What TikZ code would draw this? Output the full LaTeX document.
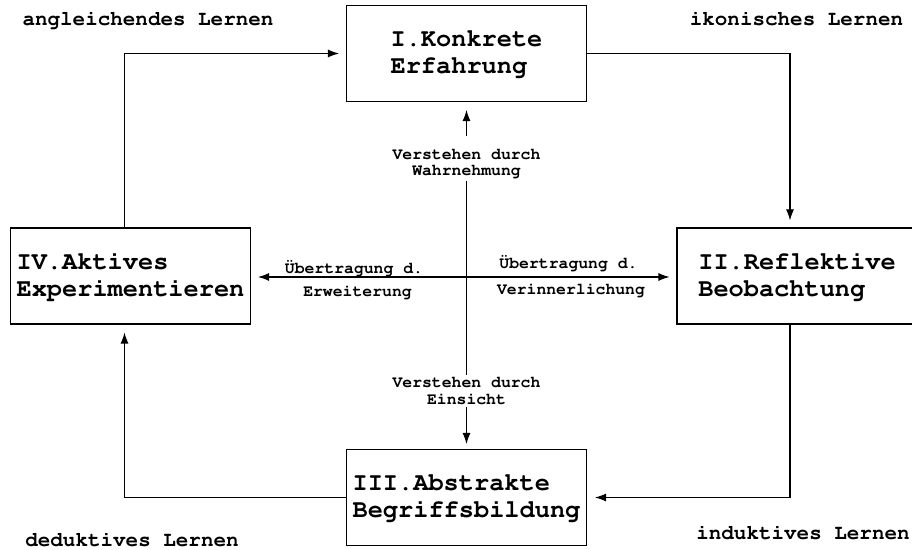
\documentclass[tikz,border=0pt]{standalone}
\usepackage[T1]{fontenc}
\usepackage{courier}
\usetikzlibrary{arrows.meta}

\begin{document}
\begin{tikzpicture}[
    phase/.style={draw, minimum width=4.8cm, minimum height=1.92cm, inner sep=0pt, align=left,
        font=\ttfamily\bfseries\fontsize{14.4}{15.4}\selectfont},
    weg/.style={inner sep=1pt, font=\ttfamily\bfseries\fontsize{11.9}{13}\selectfont},
    note/.style={inner sep=1pt, align=center, font=\ttfamily\bfseries\fontsize{9.35}{9.6}\selectfont},
    >={Latex[length=0.22cm,width=0.16cm]}, line width=0.6pt
]

            \useasboundingbox (0,0) rectangle (18.24,11);

            \node[phase] (konkret) at (9.33,9.93) {I.Konkrete\\Erfahrung};
            \node[phase] (reflex) at (15.94,5.48) {II.Reflektive\\Beobachtung};
            \node[phase] (abstrakt) at (9.33,1.05) {III.Abstrakte\\Begriffsbildung};
            \node[phase] (aktiv) at (2.61,5.48) {IV.Aktives\\Experimentieren};

            \node[weg] (angl) at (2.96,10.6) {angleichendes Lernen};
            \node[weg] (ikon) at (15.93,10.63) {ikonisches Lernen};
            \node[weg] (induk) at (16.06,0.34) {induktives Lernen};
            \node[weg] (deduk) at (2.64,0.2) {deduktives Lernen};

            \node[note] (wahr) at (9.33,7.73) {Verstehen durch\\Wahrnehmung};
            \node[note] (einsicht) at (9.33,3.18) {Verstehen durch\\Einsicht};
            \node[note] (ueberl) at (7.08,5.64) {Übertragung d.};
            \node[note] (erw) at (7.15,5.16) {Erweiterung};
            \node[note] (ueberr) at (11.37,5.74) {Übertragung d.};
            \node[note] (verinn) at (11.42,5.2) {Verinnerlichung};
            \coordinate (mitte) at (9.33,5.46);


            \draw[->, shorten >=0.14cm] (konkret.east) -| ([xshift=-0.14cm]reflex.north);
            \draw[->, shorten >=0.16cm] ([xshift=-0.14cm]reflex.south) |- (abstrakt.east);
            \draw[->, shorten >=0.16cm] (abstrakt.west) -| ([xshift=-0.12cm]aktiv.south);
            \draw[->, shorten >=0.14cm] ([xshift=-0.12cm]aktiv.north) |- (konkret.west);


            \draw (wahr) -- (einsicht);
            \draw[->, shorten <=0.2cm, shorten >=0.16cm] (wahr) -- (konkret);
            \draw[->, shorten >=0.1cm] (einsicht) -- (abstrakt);
            \draw[->, shorten >=0.14cm] (mitte) -- (mitte -| aktiv.east);
            \draw[->, shorten >=0.14cm] (mitte) -- (mitte -| reflex.west);


        \end{tikzpicture}
\end{document}
